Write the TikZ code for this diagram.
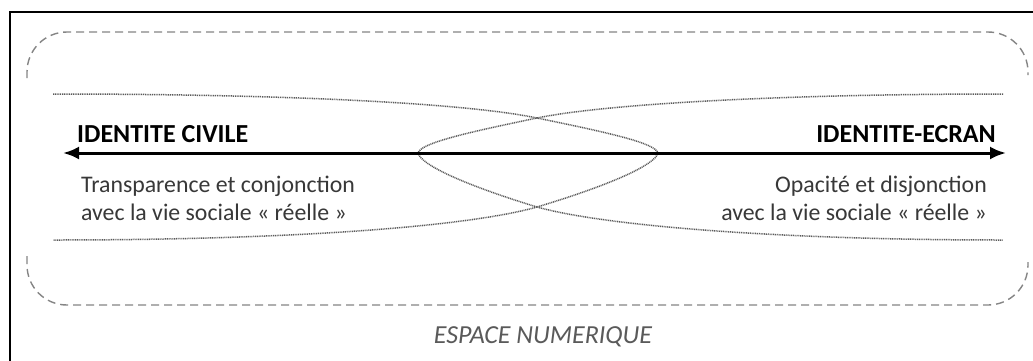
\documentclass[tikz,border=0pt]{standalone}
\usepackage{fontspec}
\setmainfont{Carlito}
\usetikzlibrary{arrows.meta}
\definecolor{textgray}{HTML}{383838}
\definecolor{dashgray}{HTML}{858585}
\definecolor{dotgray}{HTML}{5A5A5A}
\definecolor{spacegray}{HTML}{5A5A5A}
\tikzstyle{title} = [inner sep=0pt, font=\fontsize{26}{30}\selectfont\bfseries, text=black]
\tikzstyle{desc} = [inner sep=0pt, font=\fontsize{23.8}{28}\selectfont, text=textgray]
\tikzstyle{space} = [inner sep=0pt, font=\fontsize{26}{30}\selectfont\itshape, text=spacegray]
\tikzstyle{frontier} = [draw=dashgray, line width=1.4pt, dash pattern=on 8pt off 5pt, rounded corners=40pt]
\tikzstyle{trace} = [draw=dotgray, line width=1.5pt, dash pattern=on 1pt off 0.8pt]
\tikzstyle{arrow} = [{Latex[length=16pt,width=13pt]}-{Latex[length=16pt,width=13pt]}, line width=3pt]

\begin{document}
\begin{tikzpicture}[x=1pt,y=-1pt]
	\useasboundingbox (0,0) rectangle (1033,360);
	\clip (0,0) rectangle (1033,360);
	\fill[white] (0,0) rectangle (1033,360);
	\draw[line width=1.5pt] (10,380) -- (10,12) -- (1050,12);
	
	% espace numerique
	\draw[frontier] (27,78) -- (27,32) -- (1028,32) -- (1028,75);
	\draw[frontier] (27,256) -- (27,305) -- (1028,305) -- (1028,262);
	
	% traces croisees
	\draw[trace] (53,94) .. controls (300,94) and (470,104) .. (537,118)
		.. controls (610,133) and (655,143) .. (658,153)
		.. controls (655,165) and (610,185) .. (537,207)
		.. controls (470,226) and (300,240) .. (53,240);
	\draw[trace] (1003,94) .. controls (780,94) and (605,104) .. (537,118)
		.. controls (465,133) and (421,143) .. (418,153)
		.. controls (421,165) and (465,185) .. (537,207)
		.. controls (605,226) and (780,240) .. (1003,240);
	
	\node (civile) [title, anchor=base west] at (77,142) {IDENTITE CIVILE};
	\node (ecran) [title, anchor=base east] at (996,142) {IDENTITE-ECRAN};
	\node (transp) [desc, anchor=base west] at (81,192) {Transparence et conjonction};
	\node (transp2) [desc, anchor=base west] at (81,220) {avec la vie sociale «~réelle~»};
	\node (opac) [desc, anchor=base east] at (987,192) {Opacité et disjonction};
	\node (opac2) [desc, anchor=base east] at (987,220) {avec la vie sociale «~réelle~»};
	\node (espace) [space, anchor=base] at (543,343) {ESPACE NUMERIQUE};
	
	\coordinate (civ) at (63,153);
	\coordinate (ecr) at (1006,153);
	\draw [arrow](civ) -- (ecr);
\end{tikzpicture}
\end{document}
